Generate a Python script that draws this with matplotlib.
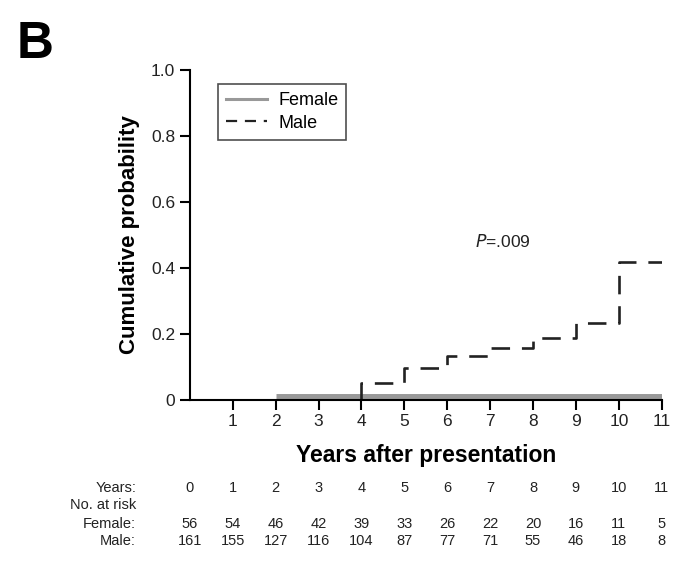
import matplotlib.pyplot as plt
from matplotlib.lines import Line2D
import numpy as np

plt.rcParams['font.family'] = ['Liberation Sans', 'DejaVu Sans']

# step curves (cumulative probability)
male_x = [4, 4, 5, 6, 7, 8, 9, 10, 11]
male_y = [0.0, 0.053, 0.096, 0.132, 0.159, 0.187, 0.233, 0.418, 0.418]
female_x = [2, 11]
female_y = [0.0, 0.0]

# number at risk table
risk_years = [0, 1, 2, 3, 4, 5, 6, 7, 8, 9, 10, 11]
female_risk = [56, 54, 46, 42, 39, 33, 26, 22, 20, 16, 11, 5]
male_risk = [161, 155, 127, 116, 104, 87, 77, 71, 55, 46, 18, 8]

fig = plt.figure(figsize=(6.78, 5.61), dpi=100)
ax = fig.add_axes([0.280, 0.287, 0.696, 0.588])

ax.step(female_x, np.array(female_y) + 0.01, where='post', color='#999999',
        lw=5, solid_capstyle='butt')
ax.step(male_x, male_y, where='post', color='#222222', lw=1.9,
        dashes=(7, 4.5))

ax.set_xlim(0, 11)
ax.set_ylim(0, 1.0)
ax.spines['top'].set_visible(False)
ax.spines['right'].set_visible(False)
ax.spines['left'].set_linewidth(1.5)
ax.spines['bottom'].set_linewidth(1.5)
ax.set_xticks(range(1, 12))
ax.set_xticklabels([str(i) for i in range(1, 12)], fontsize=12.5, color='#222222')
ax.set_yticks([0, 0.2, 0.4, 0.6, 0.8, 1.0])
ax.set_yticklabels(['0', '0.2', '0.4', '0.6', '0.8', '1.0'], fontsize=12.5, color='#222222')
ax.tick_params(axis='both', width=1.5, length=7)
ax.tick_params(axis='x', pad=3)

ax.set_xlabel('Years after presentation', fontsize=16.5, fontweight='bold', labelpad=11)
ax.set_ylabel('Cumulative probability', fontsize=16, fontweight='bold', labelpad=8)

handles = [Line2D([], [], color='#999999', lw=2.2),
           Line2D([], [], color='#222222', lw=1.6, dashes=(5, 3.5))]
leg = ax.legend(handles, ['Female', 'Male'], loc='upper left',
                bbox_to_anchor=(0.04, 0.985), fontsize=13, frameon=True,
                fancybox=False, handlelength=2.3, borderpad=0.45,
                labelspacing=0.3, handletextpad=0.6)
leg.get_frame().set_edgecolor('#222222')
leg.get_frame().set_linewidth(1.2)

ax.text(7.3, 0.48, r'$\it{P}$=.009', fontsize=12.5, ha='center', va='center', color='#222222')

fig.text(0.025, 0.965, 'B', fontsize=37, fontweight='bold', va='top', ha='left')

# risk table
row_y = [1 - 488 / 561, 1 - 505 / 561, 1 - 524 / 561, 1 - 541 / 561]
labels = ['Years:', 'No. at risk', 'Female:', 'Male:']
for lab, yy in zip(labels, row_y):
    fig.text(136 / 678, yy, lab, fontsize=10.5, ha='right', va='center', color='#222222')

for i, yr in enumerate(risk_years):
    xf = fig.transFigure.inverted().transform(ax.transData.transform((yr, 0)))[0]
    for vals, yy in zip([risk_years, female_risk, male_risk], [row_y[0], row_y[2], row_y[3]]):
        fig.text(xf, yy, str(vals[i]), fontsize=10.5, ha='center', va='center', color='#222222')

fig.savefig('out.png', dpi=100)
